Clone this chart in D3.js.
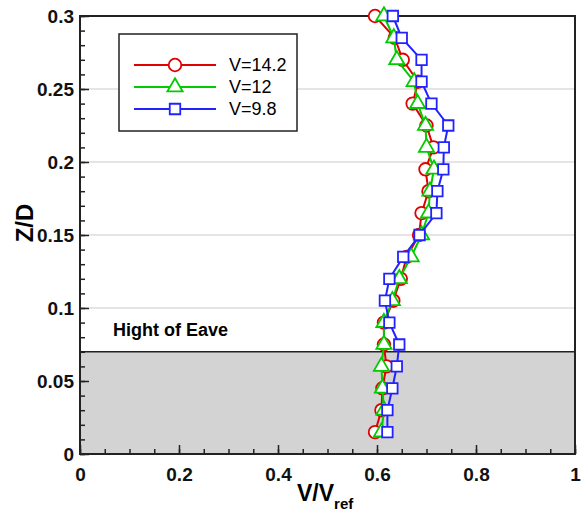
<!DOCTYPE html>
<html>
<head>
<meta charset="utf-8">
<script src="https://cdn.jsdelivr.net/npm/d3@7"></script>
<style>
  body { margin: 0; background: #fff; }
  text { font-family: Arial, "Liberation Sans", sans-serif; }
</style>
</head>
<body>
<svg width="583" height="519"></svg>
<script>
// heights (Z/D) shared by all three series
const zd = [0.015, 0.03, 0.045, 0.06, 0.075, 0.09, 0.105, 0.12, 0.135, 0.15,
            0.165, 0.18, 0.195, 0.21, 0.225, 0.24, 0.255, 0.27, 0.285, 0.3];
// V/Vref for each wind speed
const v142 = [0.596, 0.609, 0.611, 0.619, 0.614, 0.614, 0.633, 0.648, 0.660, 0.685,
              0.690, 0.704, 0.698, 0.714, 0.700, 0.672, 0.683, 0.652, 0.636, 0.596];
const v12  = [0.609, 0.614, 0.611, 0.609, 0.614, 0.614, 0.631, 0.645, 0.669, 0.690,
              0.704, 0.707, 0.715, 0.700, 0.698, 0.682, 0.675, 0.640, 0.634, 0.614];
const v98  = [0.621, 0.621, 0.631, 0.640, 0.645, 0.625, 0.616, 0.625, 0.653, 0.686,
              0.720, 0.722, 0.734, 0.735, 0.744, 0.710, 0.690, 0.690, 0.650, 0.632];
const seriesNames = ["V=14.2", "V=12", "V=9.8"];
const xTicks = [0, 0.2, 0.4, 0.6, 0.8, 1];
const yTicks = [0, 0.05, 0.1, 0.15, 0.2, 0.25, 0.3];
const eave = 0.07;

var svg = d3.select("svg");
// plot box (note: "top" is reserved by window, so use pTop)
var pLeft = 80, pRight = 575, pTop = 16, pBottom = 454;

var x = d3.scaleLinear().domain([0, 1]).range([pLeft, pRight]);
var y = d3.scaleLinear().domain([0, 0.3]).range([pBottom, pTop]);

// horizontal grid
svg.append("g").selectAll("line")
    .data(yTicks.slice(1, -1))
    .enter().append("line")
    .attr("x1", pLeft).attr("x2", pRight)
    .attr("y1", d => y(d)).attr("y2", d => y(d))
    .attr("stroke", "#dcdcdc").attr("stroke-width", 1.5);

// eave zone
svg.append("rect")
    .attr("x", pLeft).attr("y", y(eave))
    .attr("width", pRight - pLeft).attr("height", pBottom - y(eave))
    .attr("fill", "#d3d3d3");
svg.append("line")
    .attr("x1", pLeft).attr("x2", pRight)
    .attr("y1", y(eave)).attr("y2", y(eave))
    .attr("stroke", "#222").attr("stroke-width", 1.5);

svg.append("text")
    .attr("x", 113).attr("y", 336)
    .attr("font-size", 18).attr("font-weight", "bold")
    .text("Hight of Eave");

// axes with inward ticks
var xMinor = d3.axisBottom(x).tickValues(d3.range(0, 1.0001, 0.05)).tickSize(-5).tickFormat("");
var xMajor = d3.axisBottom(x).tickValues(xTicks).tickSize(-9).tickPadding(14)
    .tickFormat(d => d === 0 || d === 1 ? d3.format("d")(d) : d3.format(".1f")(d));
var yMinor = d3.axisLeft(y).tickValues(d3.range(0, 0.3001, 0.01)).tickSize(-5).tickFormat("");
var yMajor = d3.axisLeft(y).tickValues(yTicks).tickSize(-9).tickPadding(6)
    .tickFormat(d => d === 0 ? "0" : String(+d.toFixed(2)));

[xMinor, xMajor].forEach(function (a) {
    svg.append("g").attr("class", "axis").attr("transform", "translate(0," + pBottom + ")").call(a);
});
[yMinor, yMajor].forEach(function (a) {
    svg.append("g").attr("class", "axis").attr("transform", "translate(" + pLeft + ",0)").call(a);
});
svg.selectAll(".axis path").remove();
svg.selectAll(".axis line").attr("stroke", "#222").attr("stroke-width", 1.5);
svg.selectAll(".axis text")
    .attr("font-size", 19).attr("font-weight", "bold").attr("fill", "#111")
    .attr("font-family", "Arial, 'Liberation Sans', sans-serif");

// plot frame
svg.append("rect")
    .attr("x", pLeft).attr("y", pTop)
    .attr("width", pRight - pLeft).attr("height", pBottom - pTop)
    .attr("fill", "none").attr("stroke", "#222").attr("stroke-width", 2);

// axis titles
var xt = svg.append("text")
    .attr("x", 297).attr("y", 501)
    .attr("font-size", 23).attr("font-weight", "bold");
xt.append("tspan").text("V/V");
xt.append("tspan").attr("dy", 8).attr("font-size", 15).text("ref");

svg.append("text")
    .attr("transform", "translate(33,223) rotate(-90)")
    .attr("text-anchor", "middle")
    .attr("font-size", 24).attr("font-weight", "bold")
    .text("Z/D");

// series
var colors = ["#e00000", "#00cc00", "#2222ff"];
var shapes = [d3.symbolCircle, d3.symbolTriangle, d3.symbolSquare];
var sizes = [125, 100, 110];
var allData = [v142, v12, v98];

var line = d3.line()
    .x(d => x(d[0]))
    .y(d => y(d[1]));

allData.forEach(function (vals, i) {
    var pts = vals.map((v, j) => [v, zd[j]]);
    var g = svg.append("g");
    g.append("path")
        .attr("d", line(pts))
        .attr("fill", "none")
        .attr("stroke", colors[i])
        .attr("stroke-width", 2);
    g.selectAll("path.pt")
        .data(pts)
        .enter().append("path")
        .attr("class", "pt")
        .attr("transform", d => "translate(" + x(d[0]) + "," + y(d[1]) + ")")
        .attr("d", d3.symbol().type(shapes[i]).size(sizes[i]))
        .attr("fill", "#fff")
        .attr("stroke", colors[i])
        .attr("stroke-width", 1.8);
});

// legend
var legend = svg.append("g");
legend.append("rect")
    .attr("x", 119).attr("y", 34)
    .attr("width", 178).attr("height", 97)
    .attr("fill", "#fff").attr("stroke", "#222").attr("stroke-width", 1.5);

var legY = [65, 87, 109];
seriesNames.forEach(function (name, i) {
    legend.append("line")
        .attr("x1", 134).attr("x2", 216)
        .attr("y1", legY[i]).attr("y2", legY[i])
        .attr("stroke", colors[i]).attr("stroke-width", 2);
    legend.append("path")
        .attr("transform", "translate(175," + legY[i] + ")")
        .attr("d", d3.symbol().type(shapes[i]).size(sizes[i]))
        .attr("fill", "#fff").attr("stroke", colors[i]).attr("stroke-width", 1.8);
    legend.append("text")
        .attr("x", 229).attr("y", legY[i] + 6)
        .attr("font-size", 18)
        .text(name);
});
</script>
</body>
</html>
